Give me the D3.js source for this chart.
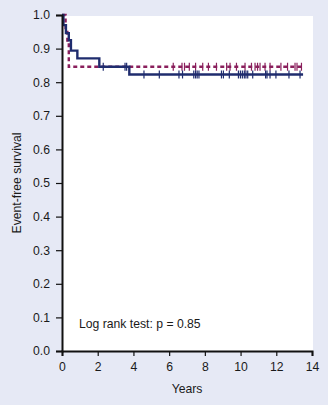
<!DOCTYPE html>
<html>
<head>
<meta charset="utf-8">
<script src="https://cdn.jsdelivr.net/npm/d3@7"></script>
<style>
  html, body { margin: 0; padding: 0; background: #e6e9f5; }
  svg { display: block; }
  text { font-family: "Liberation Sans", Arial, sans-serif; fill: #1a1a1a; }
</style>
</head>
<body>
<svg id="chart" width="328" height="405"></svg>
<script>
// Step curve for group A (solid navy): [time, survival]
const solidSteps = [[0, 1.0], [0.08, 0.97], [0.22, 0.946], [0.38, 0.925], [0.5, 0.894], [0.86, 0.871], [2.09, 0.846], [3.77, 0.823]];
const solidEnd = 13.5;
const solidCensor = [2.31, 3.53, 3.62, 4.59, 5.45, 6.55, 6.75, 7.38, 7.48, 7.57, 7.67, 8.93, 9.04, 9.37,
  9.88, 9.99, 10.10, 10.21, 10.30, 10.40, 10.68, 11.40, 11.48, 11.65, 11.98, 12.71, 13.33];

// Step curve for group B (dashed maroon)
const dashedSteps = [[0, 1.0], [0.2, 0.961], [0.3, 0.92], [0.38, 0.846]];
const dashedEnd = 13.5;
const dashedCensor = [6.23, 6.72, 6.86, 7.13, 7.48, 7.88, 8.20, 8.65, 9.22, 9.41, 9.77, 10.25, 10.61,
  10.81, 10.95, 11.09, 11.37, 11.65, 12.26, 12.63, 13.05, 13.16, 13.41];

const xTicks = [0, 2, 4, 6, 8, 10, 12, 14];
const yTicks = [0.0, 0.1, 0.2, 0.3, 0.4, 0.5, 0.6, 0.7, 0.8, 0.9, 1.0];

(function () {
const svg = d3.select("#chart");
const mLeft = 62, mRight = 312, mTop = 15, mBottom = 351;
const fs = 12.2;

const x = d3.scaleLinear().domain([0, 14]).range([mLeft, mRight]);
const y = d3.scaleLinear().domain([0, 1]).range([mBottom, mTop]);

// white plot area
svg.append("rect").attr("x", mLeft).attr("y", mTop + 1)
  .attr("width", mRight - mLeft + 1).attr("height", mBottom - mTop - 1).attr("fill", "#ffffff");

function stepPoints(steps, end) {
  const pts = steps.map(d => d.slice());
  pts.push([end, steps[steps.length - 1][1]]);
  return pts;
}
function survAt(steps, t) {
  let s = steps[0][1];
  for (const d of steps) if (d[0] <= t) s = d[1];
  return s;
}
const line = d3.line().x(d => x(d[0])).y(d => y(d[1])).curve(d3.curveStepAfter);

const solidColor = "#1f2c6e";
const dashColor = "#8a1f5c";

// dashed curve
svg.append("path").datum(stepPoints(dashedSteps, dashedEnd))
  .attr("d", line).attr("fill", "none").attr("stroke", dashColor)
  .attr("stroke-width", 2.4).attr("stroke-dasharray", "4,3");
svg.append("g").selectAll("line").data(dashedCensor).join("line")
  .attr("x1", d => x(d)).attr("x2", d => x(d))
  .attr("y1", d => y(survAt(dashedSteps, d)) - 4).attr("y2", d => y(survAt(dashedSteps, d)) + 4)
  .attr("stroke", dashColor).attr("stroke-width", 1.2);

// solid curve
svg.append("path").datum(stepPoints(solidSteps, solidEnd))
  .attr("d", line).attr("fill", "none").attr("stroke", solidColor)
  .attr("stroke-width", 2.4);
svg.append("g").selectAll("line").data(solidCensor).join("line")
  .attr("x1", d => x(d)).attr("x2", d => x(d))
  .attr("y1", d => y(survAt(solidSteps, d)) - 4).attr("y2", d => y(survAt(solidSteps, d)) + 4)
  .attr("stroke", solidColor).attr("stroke-width", 1.2);

// axes
const xAxis = svg.append("g").attr("transform", `translate(0,${mBottom})`)
  .call(d3.axisBottom(x).tickValues(xTicks).tickFormat(d3.format("d")).tickSizeOuter(0).tickSize(5).tickPadding(6));
const yAxis = svg.append("g").attr("transform", `translate(${mLeft},0)`)
  .call(d3.axisLeft(y).tickValues(yTicks).tickFormat(d3.format(".1f")).tickSizeOuter(0).tickSize(6).tickPadding(6));
[xAxis, yAxis].forEach(g => {
  g.select(".domain").attr("stroke", "#111").attr("stroke-width", 2);
  g.selectAll(".tick line").attr("stroke", "#111").attr("stroke-width", 1.2);
  g.selectAll(".tick text").attr("font-size", fs).attr("fill", "#1a1a1a")
    .attr("font-family", "'Liberation Sans', Arial, sans-serif");
});

svg.append("text").attr("x", (mLeft + mRight) / 2).attr("y", 393)
  .attr("text-anchor", "middle").attr("font-size", fs).text("Years");
svg.append("text").attr("transform", `translate(21,${(mTop + mBottom) / 2}) rotate(-90)`)
  .attr("text-anchor", "middle").attr("font-size", fs).text("Event-free survival");
svg.append("text").attr("x", 79).attr("y", 328).attr("font-size", fs)
  .text("Log rank test: p = 0.85");
})();
</script>
</body>
</html>
